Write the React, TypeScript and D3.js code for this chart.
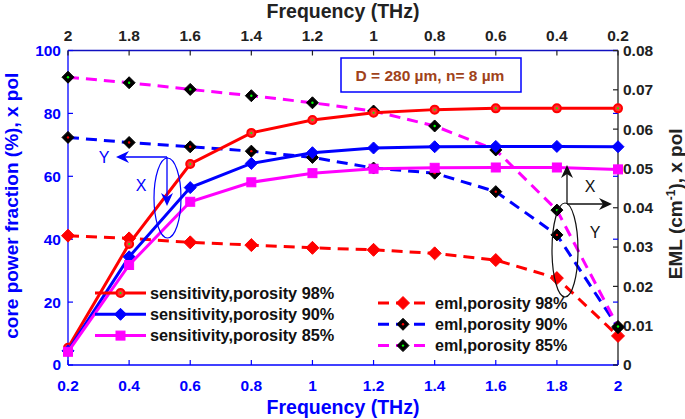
import React from 'react';
import * as d3 from 'd3';

// bottom axis (sensitivity) frequencies
const freqBottom = [0.2, 0.4, 0.6, 0.8, 1.0, 1.2, 1.4, 1.6, 1.8, 2.0];
// top axis (eml) frequencies, reversed
const freqTop = [2.0, 1.8, 1.6, 1.4, 1.2, 1.0, 0.8, 0.6, 0.4, 0.2];

const sens98 = [5.5, 38.5, 63.9, 73.8, 77.9, 80.2, 81.2, 81.6, 81.6, 81.6];
const sens90 = [4.5, 34.4, 56.4, 64.1, 67.5, 69.0, 69.4, 69.5, 69.5, 69.4];
const sens85 = [4.2, 31.8, 51.9, 58.1, 61.0, 62.4, 62.7, 62.8, 62.8, 62.2];

const eml98 = [0.0329, 0.0322, 0.0312, 0.0305, 0.0298, 0.0293, 0.0284, 0.0267, 0.0221, 0.0074];
const eml90 = [0.0579, 0.0566, 0.0555, 0.0544, 0.0528, 0.0501, 0.0488, 0.0441, 0.0331, 0.0095];
const eml85 = [0.0732, 0.0718, 0.0701, 0.0685, 0.0667, 0.0646, 0.0608, 0.0547, 0.0394, 0.0098];

const leftTicks = [0, 20, 40, 60, 80, 100];
const rightTicks = [0, 0.01, 0.02, 0.03, 0.04, 0.05, 0.06, 0.07, 0.08];
const bottomTicks = [0.2, 0.4, 0.6, 0.8, 1, 1.2, 1.4, 1.6, 1.8, 2];
const topTicks = [2, 1.8, 1.6, 1.4, 1.2, 1, 0.8, 0.6, 0.4, 0.2];

const sensLabels = ['sensitivity,porosity 98%', 'sensitivity,porosity 90%', 'sensitivity,porosity 85%'];
const emlLabels = ['eml,porosity 98%', 'eml,porosity 90%', 'eml,porosity 85%'];

const W = 685;
const H = 419;
const L = 68, R = 618, T = 50.5, B = 365;
const FONT = '"Liberation Sans", Arial, sans-serif';
const BLUE = '#0000ff';
const RED = '#ff0000';
const MAG = '#ff00ff';
const GREEN = '#00ff00';

const xB = d3.scaleLinear().domain([0.2, 2]).range([L, R]);
const xT = d3.scaleLinear().domain([2, 0.2]).range([L, R]);
const yL = d3.scaleLinear().domain([0, 100]).range([B, T]);
const yR = d3.scaleLinear().domain([0, 0.08]).range([B, T]);

const fmt = (v: number) => String(+v.toFixed(2));

function Marker({ kind, x, y }: { kind: string; x: number; y: number }) {
  const dia = (s: number) => `M${x},${y - s}L${x + s},${y}L${x},${y + s}L${x - s},${y}Z`;
  switch (kind) {
    case 'circle':
      return (
        <g>
          <circle cx={x} cy={y} r={4} fill="#ff3030" stroke={RED} strokeWidth={2} />
          <circle cx={x} cy={y} r={1} fill={GREEN} />
        </g>
      );
    case 'diamondBlue':
      return <path d={dia(6)} fill={BLUE} stroke={BLUE} strokeWidth={1} />;
    case 'square':
      return <rect x={x - 4.5} y={y - 4.5} width={9} height={9} fill={MAG} stroke={MAG} />;
    case 'diamondRed':
      return <path d={dia(6.5)} fill={RED} stroke={RED} strokeWidth={1} />;
    case 'diamondBlackRed':
      return (
        <g>
          <path d={dia(6)} fill="#000" stroke="#000" />
          <circle cx={x} cy={y} r={1.2} fill={RED} />
        </g>
      );
    default:
      return (
        <g>
          <path d={dia(6)} fill="#000" stroke="#000" />
          <circle cx={x} cy={y} r={1.2} fill={GREEN} />
        </g>
      );
  }
}

const sensSeries = [
  { data: sens98, color: RED, marker: 'circle' },
  { data: sens90, color: BLUE, marker: 'diamondBlue' },
  { data: sens85, color: MAG, marker: 'square' },
];
const emlSeries = [
  { data: eml98, color: RED, marker: 'diamondRed' },
  { data: eml90, color: BLUE, marker: 'diamondBlackRed' },
  { data: eml85, color: MAG, marker: 'diamondBlackGreen' },
];

export default function App() {
  const sensLine = d3.line<number>().x((_, i) => xB(freqBottom[i])).y(d => yL(d));
  const emlLine = d3.line<number>().x((_, i) => xT(freqTop[i])).y(d => yR(d));

  const arrowHead = (x: number, y: number, dir: string, color: string) => {
    // dir: 'left' | 'down' | 'up' | 'right'
    const s = 13, w = 6, n = 4;
    let p = '';
    if (dir === 'left') p = `M${x},${y}L${x + s},${y - w}L${x + s - n},${y}L${x + s},${y + w}Z`;
    if (dir === 'right') p = `M${x},${y}L${x - s},${y - w}L${x - s + n},${y}L${x - s},${y + w}Z`;
    if (dir === 'down') p = `M${x},${y}L${x - w},${y - s}L${x},${y - s + n}L${x + w},${y - s}Z`;
    if (dir === 'up') p = `M${x},${y}L${x - w},${y + s}L${x},${y + s - n}L${x + w},${y + s}Z`;
    return <path d={p} fill={color} />;
  };

  return (
    <div style={{ position: 'absolute', left: 0, top: 0 }}>
      <svg width={W} height={H} style={{ display: 'block', background: '#fff' }} fontFamily={FONT}>
        {/* axes frame */}
        <line x1={L} y1={T} x2={R} y2={T} stroke="#1010c0" strokeWidth={1.3} />
        <line x1={L} y1={B} x2={R} y2={B} stroke={BLUE} strokeWidth={1.3} />
        <line x1={L} y1={T} x2={L} y2={B} stroke={BLUE} strokeWidth={1.3} />
        <line x1={R} y1={T} x2={R} y2={B} stroke="#222" strokeWidth={1.3} />

        {/* left ticks and mirrored right-side blue ticks */}
        {leftTicks.map(t => (
          <g key={'l' + t}>
            <line x1={L} x2={L + 5} y1={yL(t)} y2={yL(t)} stroke={BLUE} strokeWidth={1.2} />
            <line x1={R} x2={R - 5} y1={yL(t)} y2={yL(t)} stroke={BLUE} strokeWidth={1.2} />
            <text x={L - 7} y={yL(t)} dy="0.35em" textAnchor="end" fontSize={15.5} fontWeight="bold" fill={BLUE}>
              {t}
            </text>
          </g>
        ))}
        {/* right ticks */}
        {rightTicks.map(t => (
          <g key={'r' + t}>
            <line x1={R} x2={R - 5} y1={yR(t)} y2={yR(t)} stroke="#222" strokeWidth={1.2} />
            <text x={R + 5} y={yR(t)} dy="0.35em" textAnchor="start" fontSize={15.5} fontWeight="bold" fill="#222">
              {fmt(t)}
            </text>
          </g>
        ))}
        {/* bottom ticks */}
        {bottomTicks.map(t => (
          <g key={'b' + t}>
            <line x1={xB(t)} x2={xB(t)} y1={B} y2={B - 5} stroke={BLUE} strokeWidth={1.2} />
            <text x={xB(t)} y={390.5} textAnchor="middle" fontSize={15.5} fontWeight="bold" fill={BLUE}>
              {fmt(t)}
            </text>
          </g>
        ))}
        {/* top ticks */}
        {topTicks.map(t => (
          <g key={'t' + t}>
            <line x1={xT(t)} x2={xT(t)} y1={T} y2={T + 5} stroke="#222" strokeWidth={1.2} />
            <text x={xT(t)} y={40.5} textAnchor="middle" fontSize={15.5} fontWeight="bold" fill="#222">
              {fmt(t)}
            </text>
          </g>
        ))}

        {/* axis titles */}
        <text x={343} y={18} textAnchor="middle" fontSize={19.5} fontWeight="bold" fill="#222">
          Frequency (THz)
        </text>
        <text x={343} y={414} textAnchor="middle" fontSize={19.5} fontWeight="bold" fill={BLUE}>
          Frequency (THz)
        </text>
        <text
          transform={`translate(18,${(T + B) / 2 - 2}) rotate(-90)`}
          textAnchor="middle"
          fontSize={19}
          fontWeight="bold"
          fill={BLUE}
        >
          core power fraction (%), x pol
        </text>
        <text
          transform={`translate(682,${(T + B) / 2 - 4}) rotate(-90)`}
          textAnchor="middle"
          fontSize={19}
          fontWeight="bold"
          fill="#222"
        >
          EML (cm<tspan baselineShift="super" fontSize={12}>-1</tspan>), x pol
        </text>

        {/* eml dashed lines */}
        {emlSeries.map((s, k) => (
          <g key={'e' + k}>
            <path d={emlLine(s.data) || ''} fill="none" stroke={s.color} strokeWidth={3} strokeDasharray="11,7" />
            {s.data.map((v, i) => (
              <Marker key={i} kind={s.marker} x={xT(freqTop[i])} y={yR(v)} />
            ))}
          </g>
        ))}

        {/* sensitivity lines */}
        {sensSeries.map((s, k) => (
          <g key={'s' + k}>
            <path d={sensLine(s.data) || ''} fill="none" stroke={s.color} strokeWidth={3} />
            {s.data.map((v, i) => (
              <Marker key={i} kind={s.marker} x={xB(freqBottom[i])} y={yL(v)} />
            ))}
          </g>
        ))}

        {/* info box */}
        <rect x={341} y={58} width={180} height={34} fill="#fff" stroke={BLUE} strokeWidth={1.5} />
        <text x={430} y={80.5} textAnchor="middle" fontSize={15.5} fontWeight="bold" fill="#a0421a">
          D = 280 µm, n= 8 µm
        </text>

        {/* annotation 1 (blue) */}
        <ellipse cx={167.5} cy={198} rx={13.5} ry={40} fill="none" stroke={BLUE} strokeWidth={1.2} />
        <line x1={167} y1={157} x2={122} y2={157} stroke={BLUE} strokeWidth={1.3} />
        {arrowHead(116, 157, 'left', BLUE)}
        <line x1={167} y1={157} x2={167} y2={200} stroke={BLUE} strokeWidth={1.3} />
        {arrowHead(167, 206, 'down', BLUE)}
        <text x={104} y={163} textAnchor="middle" fontSize={16} fill={BLUE}>Y</text>
        <text x={141} y={191} textAnchor="middle" fontSize={16} fill={BLUE}>X</text>

        {/* annotation 2 (black) */}
        <ellipse cx={565} cy={250} rx={13} ry={47} fill="none" stroke="#111" strokeWidth={1.2} />
        <line x1={567} y1={204} x2={567} y2={172} stroke="#111" strokeWidth={1.3} />
        {arrowHead(567, 165, 'up', '#111')}
        <line x1={567} y1={204} x2={606} y2={204} stroke="#111" strokeWidth={1.3} />
        {arrowHead(612, 204, 'right', '#111')}
        <text x={590} y={192} textAnchor="middle" fontSize={16} fill="#111">X</text>
        <text x={595} y={238} textAnchor="middle" fontSize={16} fill="#111">Y</text>

        {/* legend: sensitivity */}
        {sensSeries.map((s, k) => {
          const y = 293 + k * 21.3;
          return (
            <g key={'ls' + k}>
              <line x1={95} x2={146} y1={y} y2={y} stroke={s.color} strokeWidth={3} />
              <Marker kind={s.marker} x={120.5} y={y} />
              <text x={150} y={y} dy="0.36em" fontSize={16.3} fontWeight="bold" fill="#111">
                {sensLabels[k]}
              </text>
            </g>
          );
        })}
        {/* legend: eml */}
        {emlSeries.map((s, k) => {
          const y = 303 + k * 21.3;
          return (
            <g key={'le' + k}>
              <line x1={378} x2={432} y1={y} y2={y} stroke={s.color} strokeWidth={3} strokeDasharray="11,7" />
              <Marker kind={s.marker} x={403} y={y} />
              <text x={435} y={y} dy="0.36em" fontSize={16.1} fontWeight="bold" fill="#111">
                {emlLabels[k]}
              </text>
            </g>
          );
        })}
      </svg>
    </div>
  );
}
